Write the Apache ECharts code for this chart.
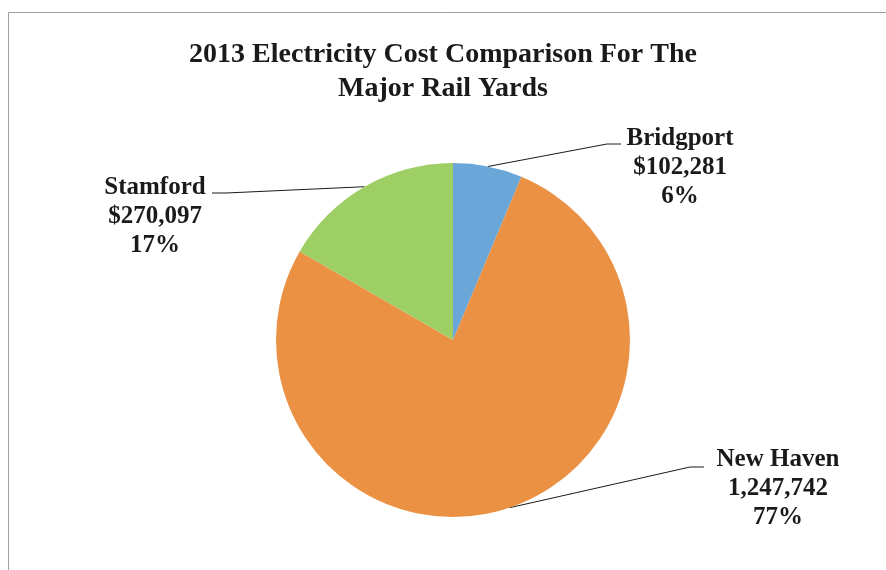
<!DOCTYPE html>
<html>
<head>
<meta charset="utf-8">
<script src="https://cdn.jsdelivr.net/npm/echarts@6/dist/echarts.min.js"></script>
<style>
  html, body { margin: 0; padding: 0; background: #fff; }
  #chart { width: 886px; height: 570px; }
</style>
</head>
<body>
<div id="chart"></div>
<script>
const chart = echarts.init(document.getElementById("chart"));

// data
const yards = ["Bridgport", "New Haven", "Stamford"];
const costs = [102281, 1247742, 270097];
const valuePrefix = ["$", "", "$"];
const sliceColors = ["#6aa6d7", "#eb9144", "#9ecf65"];

// where each label sits and how its leader line bends
const labelSpots = [
    { x: 680, y: 168, knee: [607, 144], end: [621, 144] },
    { x: 778, y: 489, knee: [690, 467], end: [704, 467] },
    { x: 155, y: 217, knee: [226, 193], end: [212, 193] }
];

const font = "'Liberation Serif', 'DejaVu Serif', serif";

const pieData = yards.map((name, i) => ({
    name: name,
    value: costs[i],
    itemStyle: { color: sliceColors[i] }
}));

const option = {
    animation: false,
    title: {
        text: "2013 Electricity Cost Comparison For The\nMajor Rail Yards",
        left: "center",
        top: 33,
        textStyle: {
            fontFamily: font,
            fontWeight: "bold",
            fontSize: 28,
            lineHeight: 34,
            color: "#1a1a1a"
        }
    },
    graphic: [
        {
            type: "rect",
            shape: { x: 8.5, y: 12.5, width: 1000, height: 1000 },
            style: { fill: "none", stroke: "#a0a0a0", lineWidth: 1 },
            silent: true
        }
    ],
    series: [
        {
            type: "pie",
            center: [453, 340],
            radius: 177,
            startAngle: 90,
            clockwise: true,
            percentPrecision: 0,
            data: pieData,
            itemStyle: { borderWidth: 0 },
            label: {
                show: true,
                position: "outside",
                fontFamily: font,
                fontWeight: "bold",
                fontSize: 25,
                lineHeight: 29,
                color: "#1a1a1a",
                align: "center",
                formatter: function (p) {
                    const v = valuePrefix[p.dataIndex] + p.value.toLocaleString("en-US");
                    return p.name + "\n" + v + "\n" + p.percent + "%";
                }
            },
            labelLine: {
                show: true,
                lineStyle: { color: "#1a1a1a", width: 1 }
            },
            labelLayout: function (params) {
                const s = labelSpots[params.dataIndex];
                const start = params.labelLinePoints[0];
                return {
                    x: s.x,
                    y: s.y,
                    align: "center",
                    verticalAlign: "middle",
                    labelLinePoints: [start, s.knee, s.end]
                };
            }
        }
    ]
};

chart.setOption(option);
window.addEventListener("resize", () => chart.resize());
</script>
</body>
</html>
